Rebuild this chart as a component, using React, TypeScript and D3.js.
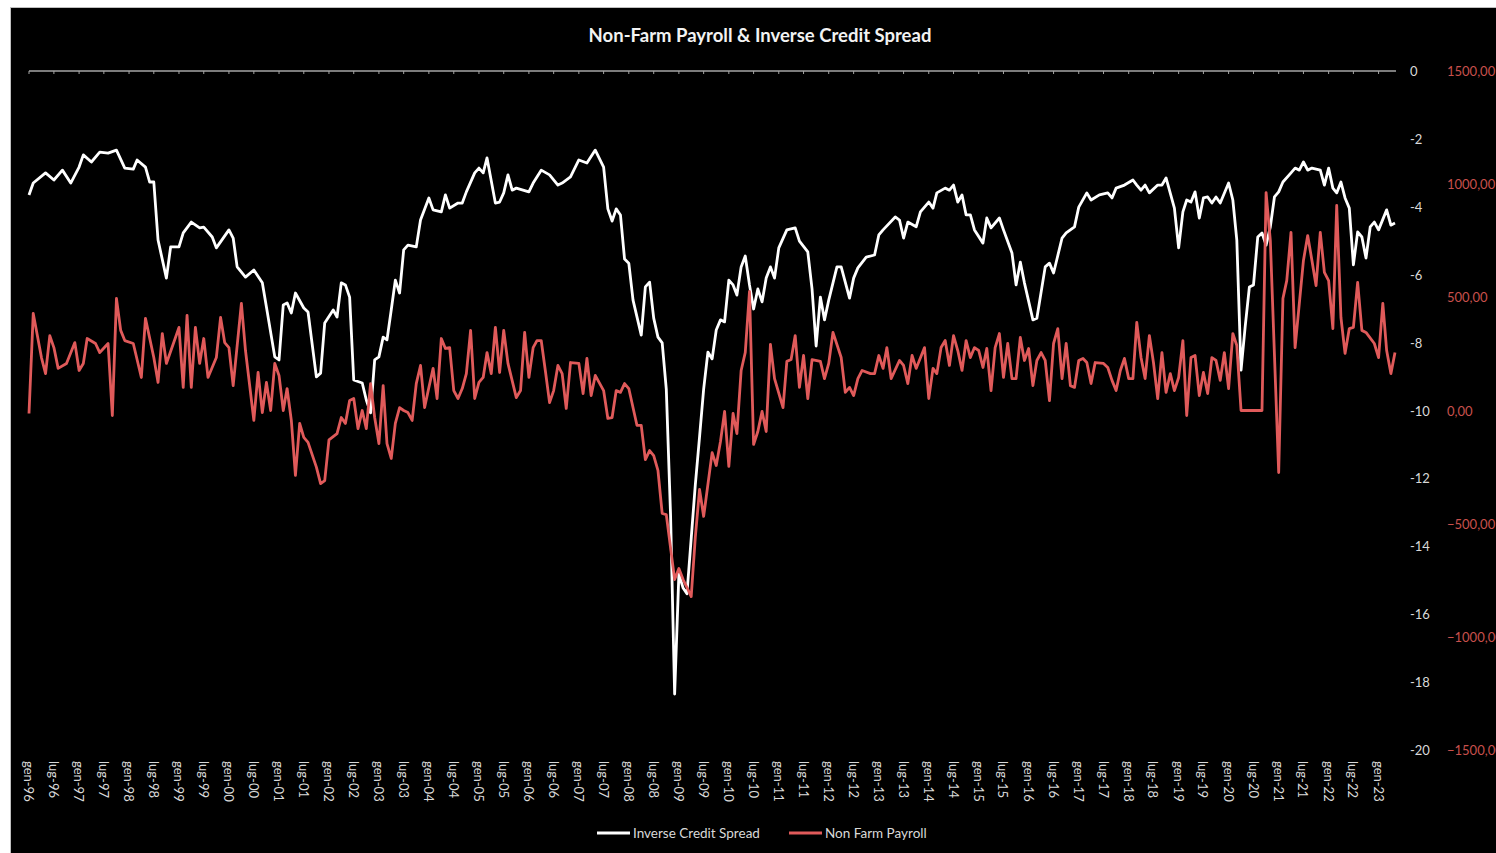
import React from "react";
import * as d3 from "d3";

// Months are counted from gen-96 (January 1996 = 0)
const chartTitle = "Non-Farm Payroll & Inverse Credit Spread";
const seriesNames = ["Inverse Credit Spread", "Non Farm Payroll"];
const spreadTicks = [0, -2, -4, -6, -8, -10, -12, -14, -16, -18, -20];
const payrollTicks = [1500, 1000, 500, 0, -500, -1000, -1500];
const itMonths = ["gen", "feb", "mar", "apr", "mag", "giu", "lug", "ago", "set", "ott", "nov", "dic"];

// [month offset, inverse credit spread]
const inverseCreditSpread: [number, number][] = [
  [0, -3.65], [1, -3.3], [4, -3.0], [6, -3.21], [8, -2.92], [10, -3.3], [12, -2.83], [13, -2.47],
  [15, -2.68], [17, -2.39], [19, -2.42], [21, -2.33], [23, -2.86], [25, -2.89], [26, -2.62], [28, -2.83],
  [29, -3.27], [30, -3.27], [31, -4.98], [33, -6.1], [34, -5.18], [36, -5.18], [37, -4.77], [39, -4.45],
  [41, -4.62], [42, -4.6], [44, -4.89], [45, -5.21], [48, -4.68], [49, -4.92], [50, -5.77], [52, -6.07],
  [54, -5.86], [56, -6.24], [57, -6.95], [59, -8.42], [60, -8.51], [61, -6.89], [62, -6.83], [63, -7.13],
  [64, -6.54], [66, -6.98], [67, -7.1], [69, -9.01], [70, -8.9], [71, -7.42], [73, -7.04], [74, -7.25],
  [75, -6.24], [76, -6.3], [77, -6.66], [78, -9.1], [80, -9.19], [81, -9.69], [82, -10.07], [83, -8.51],
  [84, -8.42], [85, -7.84], [86, -7.92], [87, -7.04], [88, -6.16], [89, -6.54], [90, -5.27], [91, -5.13],
  [93, -5.18], [94, -4.39], [96, -3.74], [97, -4.09], [99, -4.15], [100, -3.65], [101, -4.04], [103, -3.89],
  [104, -3.89], [105, -3.56], [107, -3.0], [108, -2.86], [109, -3.0], [110, -2.56], [112, -3.89], [113, -3.86],
  [114, -3.59], [115, -3.06], [116, -3.51], [117, -3.45], [120, -3.56], [121, -3.3], [123, -2.92], [125, -3.06],
  [127, -3.36], [128, -3.3], [130, -3.12], [132, -2.62], [134, -2.71], [136, -2.33], [138, -2.83], [139, -4.06],
  [140, -4.42], [141, -4.06], [142, -4.24], [143, -5.54], [144, -5.66], [145, -6.75], [147, -7.78], [148, -6.36],
  [149, -6.22], [150, -7.28], [151, -7.84], [152, -8.01], [153, -9.37], [154, -13.05], [155, -18.35], [156, -14.82],
  [157, -15.23], [158, -15.4], [160, -12.19], [161, -10.78], [162, -9.37], [163, -8.28], [164, -8.48], [165, -7.63],
  [166, -7.33], [167, -7.39], [168, -6.16], [169, -6.3], [170, -6.6], [171, -5.77], [172, -5.45], [173, -6.3],
  [174, -7.01], [175, -6.42], [176, -6.8], [177, -6.1], [178, -5.77], [179, -6.1], [180, -5.21], [182, -4.68],
  [184, -4.62], [185, -5.01], [187, -5.33], [188, -6.42], [189, -8.1], [190, -6.66], [191, -7.33], [192, -6.75],
  [194, -5.77], [195, -5.77], [197, -6.69], [198, -6.1], [199, -5.8], [201, -5.48], [203, -5.42], [204, -4.83],
  [205, -4.68], [208, -4.3], [209, -4.39], [210, -4.92], [211, -4.45], [213, -4.59], [214, -4.15], [216, -3.86],
  [217, -4.04], [218, -3.59], [220, -3.45], [221, -3.51], [222, -3.36], [223, -3.86], [224, -3.65], [225, -4.24],
  [226, -4.24], [227, -4.68], [229, -5.07], [230, -4.33], [231, -4.62], [233, -4.33], [234, -4.68], [236, -5.36],
  [237, -6.3], [238, -5.63], [239, -6.24], [241, -7.33], [242, -7.28], [244, -5.77], [245, -5.66], [246, -5.95],
  [248, -4.92], [249, -4.77], [251, -4.59], [252, -4.01], [254, -3.59], [255, -3.8], [257, -3.65], [259, -3.59],
  [260, -3.74], [261, -3.45], [263, -3.36], [265, -3.21], [266, -3.36], [267, -3.51], [268, -3.36], [269, -3.59],
  [271, -3.36], [272, -3.36], [273, -3.15], [275, -4.04], [276, -5.21], [277, -4.15], [278, -3.8], [279, -3.86],
  [280, -3.56], [281, -4.33], [282, -3.74], [283, -3.71], [284, -3.89], [285, -3.71], [286, -3.89], [288, -3.3],
  [289, -3.8], [290, -4.98], [291, -8.81], [292, -7.54], [293, -6.36], [294, -6.3], [295, -4.89], [296, -4.77],
  [297, -5.13], [298, -4.59], [299, -3.71], [300, -3.56], [301, -3.27], [303, -3.0], [304, -2.86], [305, -2.92],
  [306, -2.68], [307, -2.92], [308, -2.86], [310, -2.92], [311, -3.36], [312, -2.86], [313, -3.45], [314, -3.59],
  [315, -3.27], [316, -3.74], [317, -4.04], [318, -5.71], [319, -4.74], [320, -4.89], [321, -5.51], [322, -4.59],
  [323, -4.45], [324, -4.68], [326, -4.09], [327, -4.54], [328, -4.48],
];

// [month offset, non farm payroll change]
const nonFarmPayroll: [number, number][] = [
  [0, -13], [1, 429], [3, 234], [4, 163], [5, 331], [6, 278], [7, 186], [9, 208], [11, 300], [12, 177],
  [13, 208], [14, 318], [16, 296], [17, 256], [19, 296], [20, -22], [21, 495], [22, 354], [23, 309], [25, 296],
  [27, 146], [28, 407], [30, 234], [31, 124], [32, 340], [33, 208], [36, 367], [37, 102], [38, 420], [39, 102],
  [40, 367], [41, 208], [42, 318], [43, 146], [45, 234], [46, 411], [47, 300], [48, 278], [49, 110], [51, 473],
  [52, 265], [54, -44], [55, 168], [56, -9], [57, 124], [58, 0], [59, 208], [60, 155], [61, 0], [62, 97],
  [63, -44], [64, -287], [65, -57], [66, -119], [67, -141], [69, -250], [70, -323], [71, -310], [72, -130], [74, -102],
  [75, -31], [76, -57], [77, 44], [78, 53], [79, -80], [80, 0], [81, -80], [82, 119], [83, -31], [84, -146],
  [85, 110], [86, -146], [87, -212], [88, -57], [89, 13], [90, 0], [91, -9], [92, -44], [93, 119], [94, 199],
  [95, 13], [96, 102], [97, 186], [98, 53], [99, 318], [100, 274], [101, 278], [102, 88], [103, 53], [104, 97],
  [105, 163], [106, 354], [107, 53], [108, 124], [109, 146], [110, 256], [111, 163], [112, 367], [113, 168], [114, 354],
  [115, 208], [117, 57], [118, 88], [119, 345], [120, 146], [121, 278], [122, 309], [123, 309], [124, 177], [125, 35],
  [126, 88], [127, 199], [128, 163], [129, 9], [130, 212], [132, 208], [133, 75], [134, 230], [135, 66], [136, 155],
  [138, 88], [139, -35], [140, -31], [141, 88], [142, 80], [143, 119], [144, 97], [146, -66], [147, -66], [148, -217],
  [149, -177], [150, -199], [151, -265], [152, -455], [153, -460], [155, -747], [156, -698], [157, -747], [158, -782], [159, -822],
  [160, -561], [161, -349], [162, -468], [164, -186], [165, -243], [166, -137], [167, -4], [168, -247], [169, -13], [170, -102],
  [171, 177], [172, 256], [173, 526], [174, -150], [175, -93], [176, -4], [177, -93], [178, 292], [179, 141], [181, 13],
  [182, 217], [183, 225], [184, 331], [185, 102], [186, 243], [187, 53], [188, 225], [190, 217], [191, 141], [192, 208],
  [193, 345], [195, 234], [196, 80], [197, 102], [198, 66], [199, 141], [200, 177], [202, 163], [203, 163], [204, 243],
  [205, 186], [206, 278], [207, 141], [209, 221], [210, 199], [211, 119], [212, 243], [213, 186], [215, 278], [216, 53],
  [217, 186], [218, 163], [219, 278], [220, 309], [221, 199], [222, 331], [223, 265], [224, 177], [225, 309], [226, 234],
  [227, 278], [228, 265], [229, 190], [230, 274], [231, 88], [232, 278], [233, 340], [234, 146], [235, 296], [236, 141],
  [237, 141], [238, 323], [239, 221], [240, 274], [241, 110], [242, 221], [243, 256], [244, 221], [245, 44], [246, 296],
  [247, 362], [248, 141], [249, 296], [250, 110], [251, 102], [252, 221], [253, 230], [254, 212], [255, 119], [256, 212],
  [258, 208], [259, 190], [260, 133], [261, 88], [262, 177], [263, 230], [264, 141], [265, 141], [266, 389], [267, 234],
  [268, 141], [269, 331], [270, 212], [271, 53], [272, 256], [273, 80], [274, 163], [275, 88], [276, 146], [277, 309],
  [278, -22], [279, 234], [280, 243], [281, 66], [282, 168], [283, 75], [284, 234], [285, 221], [286, 133], [287, 256],
  [288, 97], [289, 340], [290, 287], [291, 0], [292, 0], [293, 0], [294, 0], [295, 0], [296, 0], [297, 963],
  [298, 751], [300, -274], [301, 495], [302, 574], [303, 787], [304, 278], [306, 663], [307, 773], [308, 663], [309, 552],
  [310, 787], [311, 610], [312, 574], [313, 362], [314, 906], [315, 411], [316, 252], [317, 362], [318, 367], [319, 566],
  [320, 354], [321, 345], [323, 296], [324, 234], [325, 473], [326, 265], [327, 163], [328, 256],
];

const W = 1496;
const H = 853;
const FONT = "Lato, 'Open Sans', sans-serif";
const WHITE_LINE = "#ffffff";
const RED_LINE = "#e05a5a";
const RED_TEXT = "#c8504c";
const GREY_TEXT = "#d9d9d9";

const monthDate = (m: number) => new Date(1996, m, 1);

export default function App() {
  const start = monthDate(0);
  const end = monthDate(328);
  const x = d3.scaleTime().domain([start, end]).range([29, 1395]);
  const yL = d3.scaleLinear().domain([-20, 0]).range([750, 71]);
  const yR = d3.scaleLinear().domain([-1500, 1500]).range([750, 71]);

  const locale = d3.timeFormatLocale({
    dateTime: "%A %e %B %Y, %X",
    date: "%d/%m/%Y",
    time: "%H:%M:%S",
    periods: ["AM", "PM"],
    days: ["domenica", "lunedì", "martedì", "mercoledì", "giovedì", "venerdì", "sabato"],
    shortDays: ["dom", "lun", "mar", "mer", "gio", "ven", "sab"],
    months: ["gennaio", "febbraio", "marzo", "aprile", "maggio", "giugno", "luglio", "agosto", "settembre", "ottobre", "novembre", "dicembre"],
    shortMonths: itMonths,
  });
  const fmtDate = locale.format("%b-%y");
  const numLocale = d3.formatLocale({ decimal: ",", thousands: "", grouping: [3], currency: ["€", ""] });
  const fmtNum = numLocale.format(".2f");

  const xTicks = d3.timeMonth.every(6)!.range(start, monthDate(325));

  const lineL = d3
    .line<[number, number]>()
    .x((d) => x(monthDate(d[0])))
    .y((d) => yL(d[1]));
  const lineR = d3
    .line<[number, number]>()
    .x((d) => x(monthDate(d[0])))
    .y((d) => yR(d[1]));

  return (
    <svg width={W} height={H} style={{ position: "absolute", left: 0, top: 0, background: "#fff" }} fontFamily={FONT}>
      <rect x={10.5} y={7.5} width={W - 10} height={H - 7} fill="#000" stroke="#bfbfbf" strokeWidth={1} />
      <text x={760} y={42} textAnchor="middle" fill="#f2f2f2" fontSize={18.5} fontWeight="bold">
        {chartTitle}
      </text>

      {/* category axis line at top (value 0) */}
      <line x1={29} x2={1396} y1={yL(0)} y2={yL(0)} stroke="#a6a6a6" strokeWidth={1.5} />
      {xTicks.map((t, i) => (
        <line key={"t" + i} x1={x(t)} x2={x(t)} y1={yL(0)} y2={yL(0) + 3} stroke="#a6a6a6" strokeWidth={1} />
      ))}
      {xTicks.map((t, i) => (
        <text
          key={"l" + i}
          transform={`translate(${x(t)},761) rotate(90)`}
          fill={GREY_TEXT}
          fontSize={13}
          dominantBaseline="central"
          textAnchor="start"
        >
          {fmtDate(t)}
        </text>
      ))}

      {spreadTicks.map((v) => (
        <text key={"s" + v} x={1410} y={yL(v)} fill={GREY_TEXT} fontSize={13} dominantBaseline="central">
          {v}
        </text>
      ))}
      {payrollTicks.map((v) => (
        <text key={"p" + v} x={1447} y={yR(v)} fill={RED_TEXT} fontSize={13} dominantBaseline="central">
          {fmtNum(v)}
        </text>
      ))}

      <path d={lineL(inverseCreditSpread) || ""} fill="none" stroke={WHITE_LINE} strokeWidth={2.8} strokeLinejoin="round" />
      <path d={lineR(nonFarmPayroll) || ""} fill="none" stroke={RED_LINE} strokeWidth={2.8} strokeLinejoin="round" />

      {/* legend */}
      <line x1={597} x2={630} y1={833} y2={833} stroke={WHITE_LINE} strokeWidth={3} />
      <text x={633} y={833} fill={GREY_TEXT} fontSize={13.5} dominantBaseline="central">
        {seriesNames[0]}
      </text>
      <line x1={789} x2={822} y1={833} y2={833} stroke={RED_LINE} strokeWidth={3} />
      <text x={825} y={833} fill={GREY_TEXT} fontSize={13.5} dominantBaseline="central">
        {seriesNames[1]}
      </text>
    </svg>
  );
}
